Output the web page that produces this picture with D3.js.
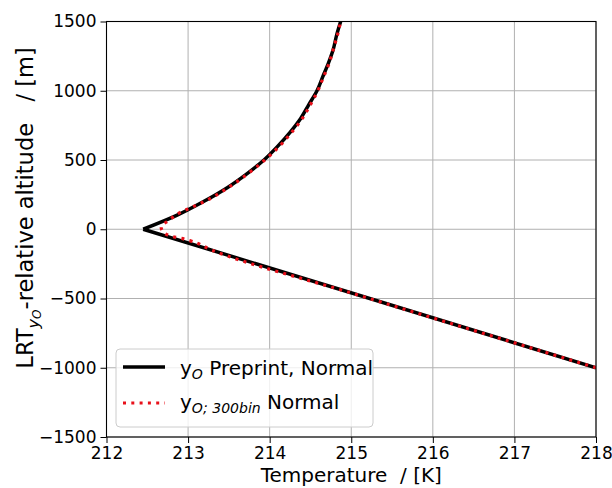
<!DOCTYPE html>
<html>
<head>
<meta charset="utf-8">
<script src="https://cdn.jsdelivr.net/npm/d3@7"></script>
<style>
  body { margin: 0; background: #fff; }
  text { font-family: "DejaVu Sans", sans-serif; fill: #000; white-space: pre; }
</style>
</head>
<body>
<svg width="612" height="488"></svg>
<script>
// black line: preprint profile (lower straight branch + upper curved branch)
const blackLowT   = [218, 212.45];
const blackLowAlt = [-1000, 0];
const blackUpT    = [212.45, 212.86, 213.19, 213.48, 213.72, 213.93, 214.1, 214.25, 214.38, 214.48, 214.58, 214.65, 214.72, 214.78, 214.82, 214.87];
const blackUpAlt  = [0, 100, 200, 300, 400, 500, 600, 700, 800, 900, 1000, 1100, 1200, 1300, 1400, 1500];

// red dotted: 300bin profile
const redT   = [218, 215, 213.3, 213.02, 212.91, 212.81, 212.69, 212.67, 212.77, 212.9, 213.05, 213.2, 213.49, 213.73, 213.94, 214.12, 214.27, 214.4, 214.5, 214.59, 214.66, 214.73, 214.78, 214.83, 214.87];
const redAlt = [-1000, -460, -153, -82, -65, -53, -17, 15, 67, 120, 160, 200, 300, 400, 500, 600, 700, 800, 900, 1000, 1100, 1200, 1300, 1400, 1500];

const xTicks = [212, 213, 214, 215, 216, 217, 218];
const yTicks = [-1500, -1000, -500, 0, 500, 1000, 1500];

const svg = d3.select("svg");
const L = 106.5, R = 596, T = 21.5, B = 437;

const x = d3.scaleLinear().domain([212, 218]).range([L, R]);
const y = d3.scaleLinear().domain([-1500, 1500]).range([B, T]);

// grid
svg.append("g").selectAll("line").data(xTicks).join("line")
  .attr("x1", d => x(d)).attr("x2", d => x(d)).attr("y1", T).attr("y2", B)
  .attr("stroke", "#b0b0b0").attr("stroke-width", 1);
svg.append("g").selectAll("line").data(yTicks).join("line")
  .attr("y1", d => y(d)).attr("y2", d => y(d)).attr("x1", L).attr("x2", R)
  .attr("stroke", "#b0b0b0").attr("stroke-width", 1);

svg.append("clipPath").attr("id", "clip").append("rect")
  .attr("x", L).attr("y", T).attr("width", R - L).attr("height", B - T);

const plot = svg.append("g").attr("clip-path", "url(#clip)");

const lineLin = d3.line().x(d => x(d[0])).y(d => y(d[1]));
const lineMono = d3.line().x(d => x(d[0])).y(d => y(d[1])).curve(d3.curveMonotoneY);

const low = blackLowT.map((t, i) => [t, blackLowAlt[i]]);
const up = blackUpT.map((t, i) => [t, blackUpAlt[i]]);
plot.append("path").attr("d", lineLin(low) + lineMono(up))
  .attr("fill", "none").attr("stroke", "#000").attr("stroke-width", 3.5)
  .attr("stroke-linejoin", "miter");

const red = redT.map((t, i) => [t, redAlt[i]]);
plot.append("path").attr("d", lineMono(red))
  .attr("fill", "none").attr("stroke", "#e8101a").attr("stroke-width", 3.2)
  .attr("stroke-dasharray", "3,5.3");

// axes
const xAxis = d3.axisBottom(x).tickValues(xTicks).tickSize(6).tickPadding(4).tickFormat(d3.format("d"));
const yAxis = d3.axisLeft(y).tickValues(yTicks).tickSize(6).tickPadding(4).tickFormat(d => d3.format("d")(d).replace("-", "\u2212"));

const gx = svg.append("g").attr("transform", `translate(0,${B})`).call(xAxis);
const gy = svg.append("g").attr("transform", `translate(${L},0)`).call(yAxis);
[gx, gy].forEach(g => {
  g.select(".domain").remove();
  g.selectAll("line").attr("stroke", "#000").attr("stroke-width", 1);
  g.selectAll("text").style("font-size", "17px").style("font-family", "DejaVu Sans");
});

svg.append("rect").attr("x", L).attr("y", T).attr("width", R - L).attr("height", B - T)
  .attr("fill", "none").attr("stroke", "#000").attr("stroke-width", 1.1);

// axis labels
svg.append("text").attr("x", (L + R) / 2).attr("y", 482).attr("text-anchor", "middle")
  .style("font-size", "20px").text("Temperature  / [K]");

const yl = svg.append("text").attr("transform", "translate(33,208) rotate(-90)")
  .attr("text-anchor", "middle").style("font-size", "22.5px");
yl.append("tspan").text("LRT");
yl.append("tspan").attr("dy", 6).style("font-size", "16px").style("font-style", "italic").text("y");
yl.append("tspan").attr("dy", 2).style("font-size", "12px").style("font-style", "italic").text("O");
yl.append("tspan").attr("dy", -8).text("-relative altitude   / [m]");

// legend
const lg = svg.append("g");
lg.append("rect").attr("x", 116).attr("y", 349).attr("width", 257).attr("height", 78).attr("rx", 4)
  .attr("fill", "#fff").attr("fill-opacity", 0.8).attr("stroke", "#cccccc");
lg.append("line").attr("x1", 123).attr("x2", 165).attr("y1", 367).attr("y2", 367)
  .attr("stroke", "#000").attr("stroke-width", 3.5);
lg.append("line").attr("x1", 123).attr("x2", 165).attr("y1", 403).attr("y2", 403)
  .attr("stroke", "#e8101a").attr("stroke-width", 3.2).attr("stroke-dasharray", "3,5.3");

const t1 = lg.append("text").attr("x", 180).attr("y", 375).style("font-size", "20px");
t1.append("tspan").text("y");
t1.append("tspan").attr("dy", 4).style("font-size", "14px").style("font-style", "italic").text("O");
t1.append("tspan").attr("dy", -4).text(" Preprint, Normal");

const t2 = lg.append("text").attr("x", 180).attr("y", 409).style("font-size", "20px");
t2.append("tspan").text("y");
t2.append("tspan").attr("dy", 4).style("font-size", "14px").style("font-style", "italic").text("O; 300bin");
t2.append("tspan").attr("dy", -4).text(" Normal");
</script>
</body>
</html>
